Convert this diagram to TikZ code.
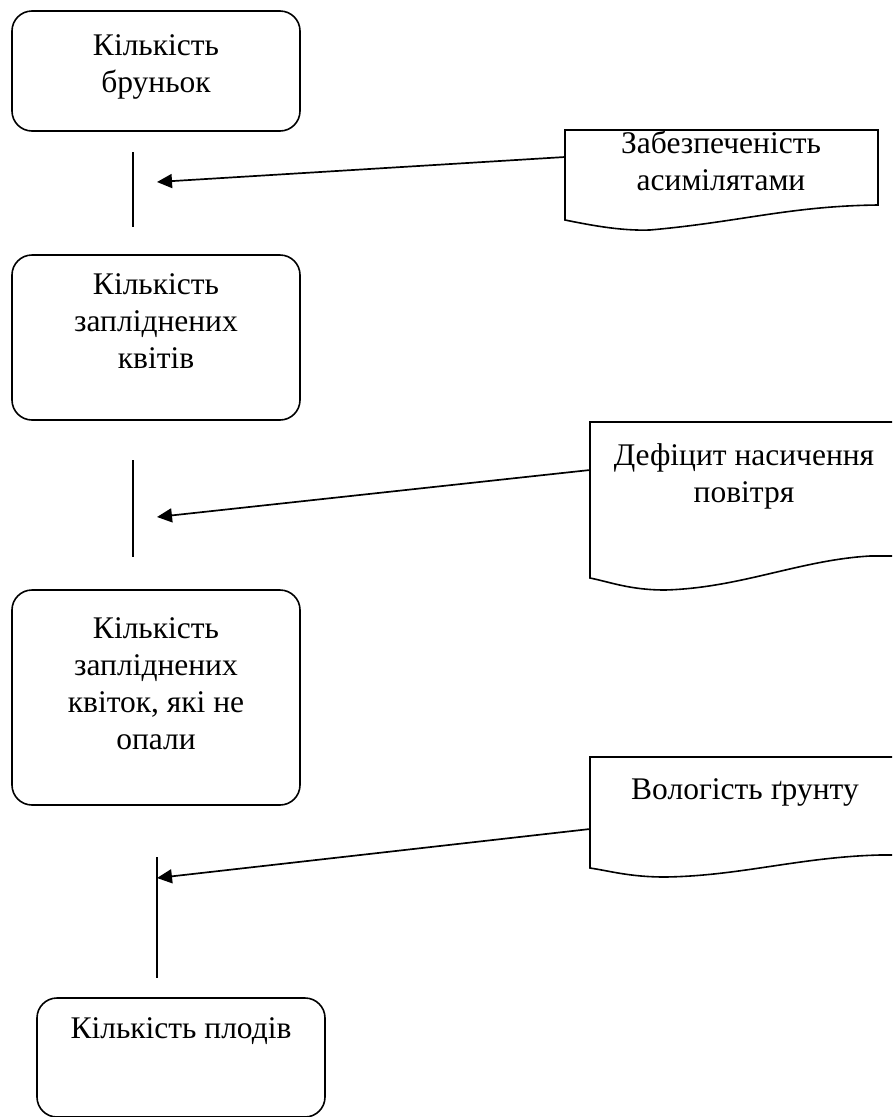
\documentclass[tikz,border=0pt]{standalone}
\usepackage{fontspec}
\setmainfont{Liberation Serif}
\usetikzlibrary{arrows.meta}
\begin{document}
\begin{tikzpicture}[x=1pt,y=-1pt,
  box/.style={draw, line width=1.6pt, rounded corners=20pt},
  txt/.style={align=center, font=\fontsize{31.5}{37}\selectfont, inner sep=0pt},
  conn/.style={line width=1.7pt},
  arr/.style={line width=1.7pt, -{Triangle[length=15pt,width=14pt]}},
  doc/.style={draw, line width=1.6pt}]
\clip (0,0) rectangle (892,1117);
\useasboundingbox (0,0) rectangle (892,1117);

% boxes
\draw[box] (12,11) rectangle (300,131);
\node[txt] (b1) at (156,67) {Кількість\\бруньок};
\draw[box] (12,255) rectangle (300,420);
\node[txt] (b2) at (156,321) {Кількість\\запліднених\\квітів};
\draw[box] (12,590) rectangle (300,805);
\node[txt] (b3) at (156,684) {Кількість\\запліднених\\квіток, які не\\опали};
\draw[box] (37,998) rectangle (325,1117);
\node[txt] (b4) at (181,1031) {Кількість плодів};

% documents
\draw[doc] (565,220) -- (565,130) -- (878,130) -- (878,205)
  .. controls (790,206) and (740,222) .. (650,230)
  .. controls (620,231) and (590,225) .. (565,220) -- cycle;
\node[txt] (d1) at (721,161) {Забезпеченість\\асимілятами};

\draw[doc] (590,578) -- (590,422) -- (900,422) -- (900,556) -- (870,556)
  .. controls (800,560) and (740,588) .. (665,590)
  .. controls (630,590) and (610,582) .. (590,578) -- cycle;
\node[txt] (d2) at (744,476) {Дефіцит насичення\\повітря};

\draw[doc] (590,868) -- (590,757) -- (900,757) -- (900,855) -- (880,855)
  .. controls (800,857) and (740,876) .. (665,877)
  .. controls (630,877) and (610,871) .. (590,868) -- cycle;
\node[txt] (d3) at (745,792) {Вологість ґрунту};

% vertical lines
\coordinate (v1a) at (133,152); \coordinate (v1b) at (133,227);
\coordinate (v2a) at (133,460); \coordinate (v2b) at (133,557);
\coordinate (v3a) at (157,857); \coordinate (v3b) at (157,978);
\draw[conn] (v1a) -- (v1b);
\draw[conn] (v2a) -- (v2b);
\draw[conn] (v3a) -- (v3b);

% arrows
\coordinate (s1) at (565,157); \coordinate (e1) at (157,182);
\coordinate (s2) at (590,470); \coordinate (e2) at (157,517);
\coordinate (s3) at (590,829); \coordinate (e3) at (157,878);
\draw[arr] (s1) -- (e1);
\draw[arr] (s2) -- (e2);
\draw[arr] (s3) -- (e3);
\end{tikzpicture}
\end{document}
